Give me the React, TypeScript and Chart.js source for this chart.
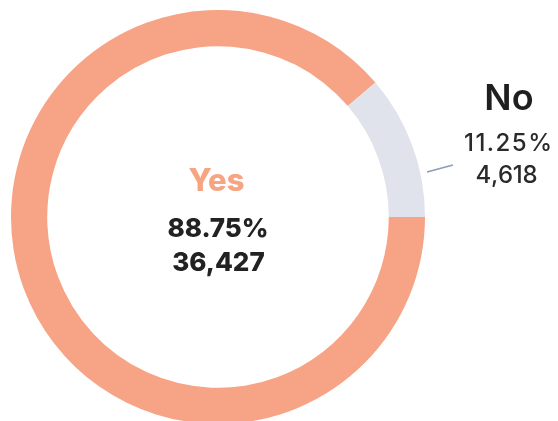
import React, { useEffect, useRef } from "react";
import { Chart, registerables } from "chart.js";

Chart.register(...registerables);

const categories = ["Yes", "No"];
const counts = [36427, 4618];
const percentLabels = ["88.75%", "11.25%"];
const countLabels = ["36,427", "4,618"];
const sliceColors = ["#F7A385", "#E0E3EB"];

function drawFitted(ctx: CanvasRenderingContext2D, text: string, cx: number, baseline: number, font: string, targetWidth: number) {
  ctx.font = font;
  const chars = Array.from(text);
  const widths = chars.map((c) => ctx.measureText(c).width);
  const natural = widths.reduce((a, b) => a + b, 0);
  const gap = chars.length > 1 ? (targetWidth - natural) / (chars.length - 1) : 0;
  const total = natural + gap * (chars.length - 1);
  let x = cx - total / 2;
  ctx.textAlign = "left";
  ctx.textBaseline = "alphabetic";
  chars.forEach((c, i) => {
    ctx.fillText(c, x, baseline);
    x += widths[i] + gap;
  });
}

function drawCentered(ctx: CanvasRenderingContext2D, text: string, cx: number, baseline: number, font: string) {
  ctx.font = font;
  ctx.textAlign = "center";
  ctx.textBaseline = "alphabetic";
  ctx.fillText(text, cx, baseline);
}

const labelPlugin = {
  id: "labelPlugin",
  afterDraw(chart: any) {
    const meta = chart.getDatasetMeta(0);
    const arc = meta.data[0] as any;
    if (!arc) return;
    const cx = arc.x;
    const cy = arc.y;
    const ctx = chart.ctx as CanvasRenderingContext2D;
    ctx.save();
    // Center label (Yes)
    ctx.fillStyle = "#F6A482";
    drawCentered(ctx, categories[0], cx - 1.5, cy - 26, "800 31px Inter");
    ctx.fillStyle = "#222222";
    drawCentered(ctx, percentLabels[0], cx, cy + 20, "800 26px Inter");
    drawCentered(ctx, countLabels[0], cx + 0.5, cy + 53.5, "800 26px Inter");
    // Outside label (No)
    ctx.fillStyle = "#1f1f1f";
    drawCentered(ctx, categories[1], cx + 291, cy - 107, "600 36px Inter");
    ctx.fillStyle = "#2a2a2a";
    drawFitted(ctx, percentLabels[1], cx + 290, cy - 66, "500 24px Inter", 88);
    drawFitted(ctx, countLabels[1], cx + 288.5, cy - 34, "500 24px Inter", 62);
    // leader line
    ctx.strokeStyle = "#8A9CBA";
    ctx.lineWidth = 1.5;
    ctx.beginPath();
    ctx.moveTo(cx + 209, cy - 45);
    ctx.lineTo(cx + 235, cy - 52);
    ctx.stroke();
    ctx.restore();
  },
};

export default function App() {
  const ref = useRef<HTMLCanvasElement | null>(null);
  useEffect(() => {
    if (!ref.current) return;
    const chart = new Chart(ref.current, {
      type: "doughnut",
      data: {
        labels: categories,
        datasets: [
          {
            data: counts,
            backgroundColor: sliceColors,
            borderWidth: 0,
          },
        ],
      },
      options: {
        animation: false,
        responsive: false,
        rotation: 90,
        cutout: "82.5%",
        layout: { padding: { left: 11, right: 133, top: 10, bottom: 6 } },
        plugins: {
          legend: { display: false },
          tooltip: { enabled: false },
        },
      },
      plugins: [labelPlugin],
    });
    return () => chart.destroy();
  }, []);
  return (
    <div
      style={{
        position: "fixed",
        left: 0,
        top: 0,
        width: 558,
        height: 421,
        overflow: "hidden",
        background: "#ffffff",
      }}
    >
      <canvas ref={ref} width={558} height={430} style={{ display: "block" }} />
    </div>
  );
}
